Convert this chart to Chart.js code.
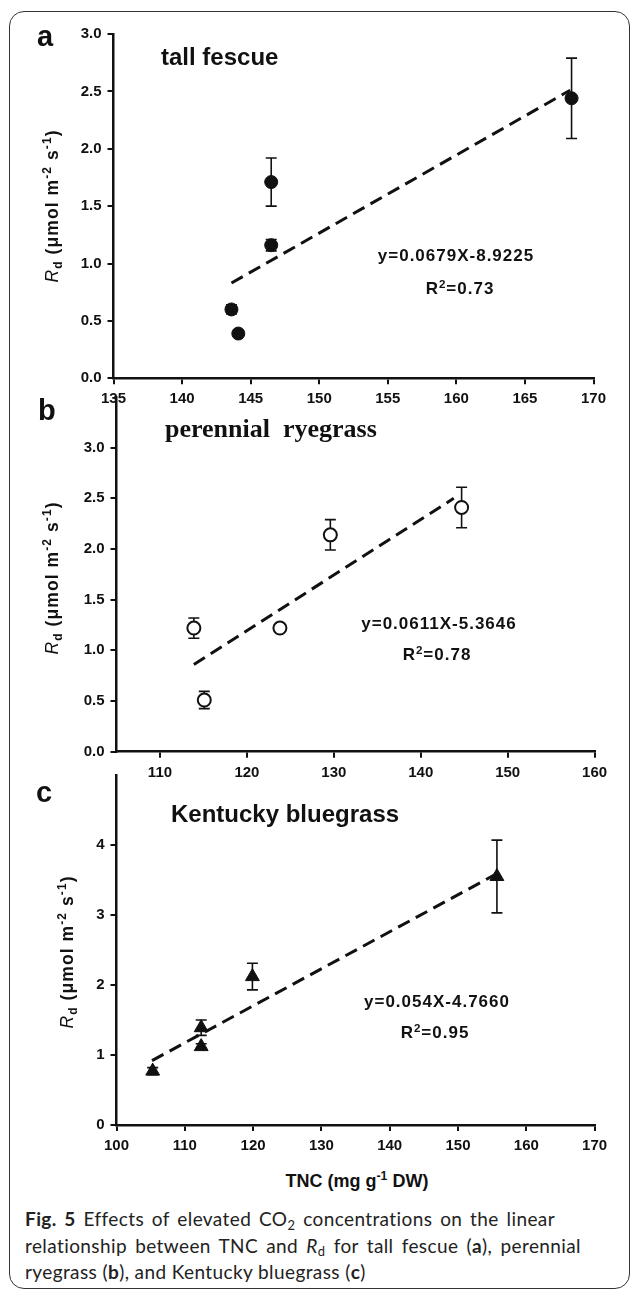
<!DOCTYPE html>
<html>
<head>
<meta charset="utf-8">
<script src="https://cdn.jsdelivr.net/npm/chart.js@4.4.0/dist/chart.umd.min.js"></script>
<style>
  html, body { margin: 0; padding: 0; background: #fff; }
  #page { position: relative; width: 630px; height: 1293px; overflow: hidden;
          font-family: 'Liberation Sans', Arial, sans-serif; color: #111; }
  canvas { position: absolute; left: 0; }
  .frame { position: absolute; left: 9px; top: 11px; width: 619px; height: 1276px;
           border: 1.5px solid #333; border-radius: 15px; }
  .txt { position: absolute; white-space: nowrap; line-height: 1; font-weight: bold; }
  .ctr { width: 300px; text-align: center; }
  .eq { font-size: 17px; letter-spacing: 1px; }
  .lbl { font-size: 29px; }
  .ttl { font-size: 24px; }
  .ytitle { position: absolute; width: 220px; height: 22px; line-height: 22px; text-align: center;
            font-size: 17.5px; font-weight: bold; letter-spacing: 1.1px; white-space: nowrap;
            transform: rotate(-90deg); }
  .ytitle i { font-weight: normal; }
  sup, sub { font-size: 0.68em; line-height: 0; position: relative; vertical-align: baseline; }
  sup { top: -0.55em; }
  sub { top: 0.3em; }
  .caption { position: absolute; left: 25px; top: 1206px; font-family: Lato, 'Open Sans', sans-serif;
             font-size: 19px; letter-spacing: 0.4px; line-height: 26.5px; color: #222; }
  .caption div { white-space: nowrap; }
  .caption .j { text-align: justify; text-align-last: justify; white-space: normal; }
</style>
</head>
<body>
<div id="page">
  <div class="frame"></div>
  <canvas id="chartA" width="630" height="420" style="top:0px"></canvas>
  <canvas id="chartB" width="630" height="420" style="top:380px"></canvas>
  <canvas id="chartC" width="630" height="400" style="top:760px"></canvas>

  <div class="txt lbl" style="left:37px;top:22px">a</div>
  <div class="txt lbl" style="left:38px;top:396px">b</div>
  <div class="txt lbl" style="left:36px;top:778px">c</div>

  <div class="txt ttl" style="left:161px;top:45px">tall fescue</div>
  <div class="txt" style="left:165px;top:416px;font-family:'Liberation Serif','Times New Roman',serif;font-size:26px">perennial&nbsp; ryegrass</div>
  <div class="txt ttl" style="left:171px;top:802px">Kentucky bluegrass</div>

  <div class="txt eq ctr" style="left:306px;top:247px">y=0.0679X-8.9225</div>
  <div class="txt eq ctr" style="left:310px;top:280px">R<sup>2</sup>=0.73</div>
  <div class="txt eq ctr" style="left:289px;top:615px">y=0.0611X-5.3646</div>
  <div class="txt eq ctr" style="left:287px;top:646px">R<sup>2</sup>=0.78</div>
  <div class="txt eq ctr" style="left:287px;top:993px">y=0.054X-4.7660</div>
  <div class="txt eq ctr" style="left:285px;top:1024px">R<sup>2</sup>=0.95</div>

  <div class="ytitle" style="left:-58px;top:195px"><i>R</i><sub>d</sub> (μmol m<sup>-2</sup> s<sup>-1</sup>)</div>
  <div class="ytitle" style="left:-58px;top:567px"><i>R</i><sub>d</sub> (μmol m<sup>-2</sup> s<sup>-1</sup>)</div>
  <div class="ytitle" style="left:-43px;top:941px"><i>R</i><sub>d</sub> (μmol m<sup>-2</sup> s<sup>-1</sup>)</div>

  <div class="txt ctr" style="left:207px;top:1172px;font-size:18px">TNC (mg g<sup>-1</sup> DW)</div>

  <div class="caption">
    <div class="j" style="width:530px"><b>Fig. 5</b> Effects of elevated CO<sub>2</sub> concentrations on the linear</div>
    <div class="j" style="width:556px">relationship between TNC and <i>R</i><sub>d</sub> for tall fescue (<b>a</b>), perennial</div>
    <div>ryegrass (<b>b</b>), and Kentucky bluegrass (<b>c</b>)</div>
  </div>
</div>

<script>
// ===== Panel a: tall fescue =====
const tncA = [143.6, 144.1, 146.5, 146.5, 168.4];
const rdA = [0.60, 0.39, 1.16, 1.71, 2.44];
const errA = [0.04, 0, 0.05, 0.21, 0.35];
const fitXA = [143.6, 168.3];
const fitYA = [0.83, 2.51];
const xTicksA = [135, 140, 145, 150, 155, 160, 165, 170];
const yTicksA = [0, 0.5, 1.0, 1.5, 2.0, 2.5, 3.0];

// ===== Panel b: perennial ryegrass =====
const tncB = [113.9, 115.1, 123.8, 129.6, 144.7];
const rdB = [1.22, 0.51, 1.22, 2.14, 2.41];
const errB = [0.10, 0.085, 0, 0.15, 0.20];
const fitXB = [113.9, 143.8];
const fitYB = [0.86, 2.50];
const xTicksB = [110, 120, 130, 140, 150, 160];
const yTicksB = [0, 0.5, 1.0, 1.5, 2.0, 2.5, 3.0];

// ===== Panel c: Kentucky bluegrass =====
const tncC = [105.3, 112.4, 112.4, 119.9, 155.7];
const rdC = [0.77, 1.12, 1.39, 2.12, 3.55];
const errC = [0.05, 0.04, 0.11, 0.19, 0.52];
const fitXC = [105.2, 155.5];
const fitYC = [0.92, 3.58];
const xTicksC = [100, 110, 120, 130, 140, 150, 160, 170];
const yTicksC = [0, 1, 2, 3, 4];

const ink = '#111';
const tickFont = { family: "'Liberation Sans', Arial, sans-serif", size: 15, weight: 'bold' };

// vertical error bars with caps, drawn under the markers
const errorBars = {
    id: 'errorBars',
    beforeDatasetsDraw(chart, args, opts) {
        const { ctx, scales: { x, y } } = chart;
        ctx.save();
        ctx.strokeStyle = ink;
        ctx.lineWidth = 1.6;
        opts.xs.forEach((v, i) => {
            const e = opts.err[i];
            if (!e) return;
            const px = x.getPixelForValue(v);
            const top = y.getPixelForValue(opts.ys[i] + e);
            const bot = y.getPixelForValue(opts.ys[i] - e);
            ctx.beginPath();
            ctx.moveTo(px, top); ctx.lineTo(px, bot);
            ctx.moveTo(px - 5.5, top); ctx.lineTo(px + 5.5, top);
            ctx.moveTo(px - 5.5, bot); ctx.lineTo(px + 5.5, bot);
            ctx.stroke();
        });
        ctx.restore();
    }
};

function axis(min, max, ticks, fmt, size, horizontal) {
    return {
        type: 'linear',
        min: min,
        max: max,
        afterBuildTicks: (scale) => { scale.ticks = ticks.map(v => ({ value: v })); },
        afterFit: (scale) => {
            if (horizontal) scale.height = size; else scale.width = size;
        },
        border: { display: true, color: ink, width: 2.5 },
        grid: { drawOnChartArea: false, drawTicks: true, tickLength: 6, color: ink, lineWidth: 2 },
        ticks: { font: tickFont, color: ink, padding: 6, maxRotation: 0, autoSkip: false,
                 callback: fmt }
    };
}

function makePanel(id, p) {
    new Chart(document.getElementById(id), {
        type: 'scatter',
        data: {
            datasets: [
                {
                    data: p.xs.map((v, i) => ({ x: v, y: p.ys[i] })),
                    pointStyle: p.style,
                    pointRadius: p.radius,
                    backgroundColor: p.fill,
                    borderColor: ink,
                    borderWidth: p.bw,
                    order: 0
                },
                {
                    type: 'line',
                    data: p.fitX.map((v, i) => ({ x: v, y: p.fitY[i] })),
                    borderColor: ink,
                    borderWidth: 3,
                    borderDash: [13, 7],
                    pointRadius: 0,
                    fill: false,
                    order: 1
                }
            ]
        },
        options: {
            responsive: false,
            animation: false,
            layout: { padding: { left: 0, top: p.top, right: p.right, bottom: 0 } },
            plugins: {
                legend: { display: false },
                tooltip: { enabled: false },
                errorBars: { xs: p.xs, ys: p.ys, err: p.err }
            },
            scales: {
                x: axis(p.xMin, p.xMax, p.xTicks, v => String(v), p.xh, true),
                y: axis(p.yMin, p.yMax, p.yTicks, p.yFmt, p.yw, false)
            }
        },
        plugins: [errorBars]
    });
}

const oneDecimal = v => Number(v).toFixed(1);

makePanel('chartA', {
    xs: tncA, ys: rdA, err: errA, fitX: fitXA, fitY: fitYA,
    style: 'circle', radius: 6.5, fill: ink, bw: 1,
    xMin: 135, xMax: 170, xTicks: xTicksA, yMin: 0, yMax: 3, yTicks: yTicksA, yFmt: oneDecimal,
    top: 34, right: 36.5, yw: 113.5, xh: 41.7
});

makePanel('chartB', {
    xs: tncB, ys: rdB, err: errB, fitX: fitXB, fitY: fitYB,
    style: 'circle', radius: 6.5, fill: '#fff', bw: 2,
    xMin: 105, xMax: 160, xTicks: xTicksB, yMin: 0, yMax: 3.5, yTicks: yTicksB, yFmt: oneDecimal,
    top: 17, right: 35.4, yw: 116.5, xh: 48.3
});

makePanel('chartC', {
    xs: tncC, ys: rdC, err: errC, fitX: fitXC, fitY: fitYC,
    style: 'triangle', radius: 8, fill: ink, bw: 1,
    xMin: 100, xMax: 170, xTicks: xTicksC, yMin: 0, yMax: 5, yTicks: yTicksC, yFmt: v => String(v),
    top: 14, right: 35.4, yw: 116.5, xh: 35
});
</script>
</body>
</html>
